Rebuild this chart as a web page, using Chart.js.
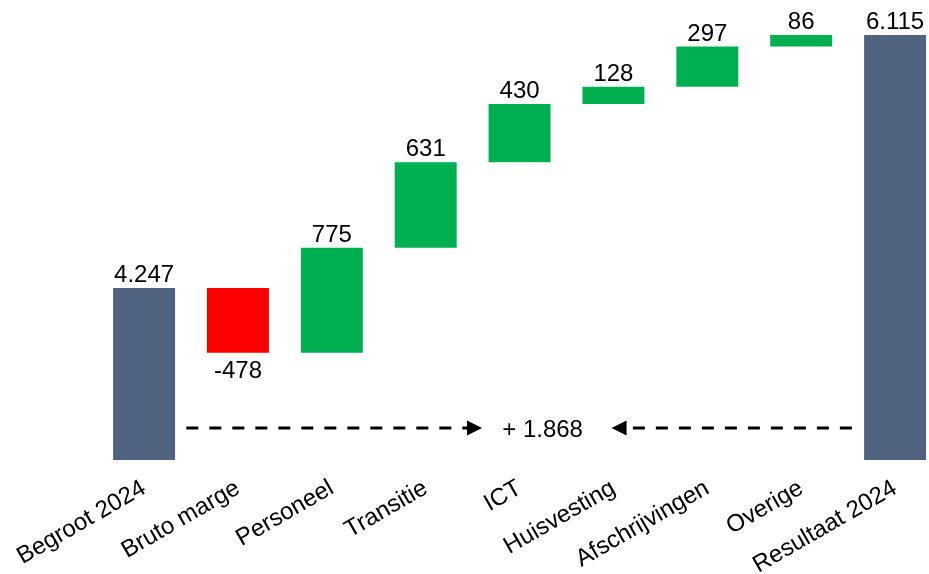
<!DOCTYPE html>
<html>
<head>
<meta charset="utf-8">
<script src="https://cdn.jsdelivr.net/npm/chart.js@4"></script>
<style>
  html, body { margin: 0; padding: 0; background: #ffffff; overflow: hidden; width: 929px; height: 574px; }
  #wrap { width: 942px; height: 574px; position: relative; }
</style>
</head>
<body>
<div id="wrap"><canvas id="c"></canvas></div>
<script>
// ---- data ----
const categories = ['Begroot 2024', 'Bruto marge', 'Personeel', 'Transitie', 'ICT', 'Huisvesting', 'Afschrijvingen', 'Overige', 'Resultaat 2024'];
const values = [4247, -478, 775, 631, 430, 128, 297, 86, 6115];
const kinds = ['total', 'delta', 'delta', 'delta', 'delta', 'delta', 'delta', 'delta', 'total'];
const yMin = 2977;
const yMax = 6300;

const COLORS = { total: '#4F6380', up: '#00B050', down: '#FF0000' };

function fmt(n) {
  const s = Math.abs(Math.round(n)).toString().replace(/\B(?=(\d{3})+(?!\d))/g, '.');
  return (n < 0 ? '-' : '') + s;
}

// build floating bars
let running = 0;
const bars = [];
const colors = [];
values.forEach((v, i) => {
  if (kinds[i] === 'total') {
    bars.push([yMin, v]);
    running = v;
    colors.push(COLORS.total);
  } else {
    bars.push([running, running + v]);
    running += v;
    colors.push(v >= 0 ? COLORS.up : COLORS.down);
  }
});
const difference = values[values.length - 1] - values[0];

const FONT = '"Liberation Sans", Arial, sans-serif';

const labelPlugin = {
  id: 'wfLabels',
  afterDatasetsDraw(chart) {
    const ctx = chart.ctx;
    const meta = chart.getDatasetMeta(0);
    const y = chart.scales.y;
    ctx.save();
    ctx.font = '24px ' + FONT;
    ctx.fillStyle = '#000';
    ctx.textAlign = 'center';
    ctx.textBaseline = 'alphabetic';
    meta.data.forEach((bar, i) => {
      const v = values[i];
      const [a, b] = bars[i];
      if (v >= 0) {
        ctx.fillText(fmt(v), bar.x, y.getPixelForValue(Math.max(a, b)) - 6);
      } else {
        ctx.fillText(fmt(v), bar.x, y.getPixelForValue(Math.min(a, b)) + 25);
      }
    });
    ctx.restore();
  }
};

const arrowPlugin = {
  id: 'wfArrows',
  afterDatasetsDraw(chart) {
    const ctx = chart.ctx;
    const xs = chart.scales.x, ys = chart.scales.y;
    const yy = ys.getPixelForValue(3213);
    const X = v => xs.getPixelForValue(v);
    ctx.save();
    ctx.strokeStyle = '#000';
    ctx.fillStyle = '#000';
    ctx.lineWidth = 3;
    ctx.setLineDash([12, 11]);
    // left arrow -> right
    const l0 = X(0.45), l1 = X(3.6);
    ctx.beginPath(); ctx.moveTo(l0, yy); ctx.lineTo(l1 - 15, yy); ctx.stroke();
    // right arrow <- left
    const r0 = X(7.54), r1 = X(4.98);
    ctx.beginPath(); ctx.moveTo(r0, yy); ctx.lineTo(r1 + 15, yy); ctx.stroke();
    ctx.setLineDash([]);
    ctx.beginPath(); ctx.moveTo(l1, yy); ctx.lineTo(l1 - 15, yy - 7.5); ctx.lineTo(l1 - 15, yy + 7.5); ctx.closePath(); ctx.fill();
    ctx.beginPath(); ctx.moveTo(r1, yy); ctx.lineTo(r1 + 15, yy - 7.5); ctx.lineTo(r1 + 15, yy + 7.5); ctx.closePath(); ctx.fill();
    ctx.font = '24px ' + FONT;
    ctx.textAlign = 'center';
    ctx.textBaseline = 'middle';
    ctx.fillText('+ ' + fmt(difference), X(4.245), yy + 2);
    ctx.restore();
  }
};

new Chart(document.getElementById('c'), {
  type: 'bar',
  data: {
    labels: categories,
    datasets: [{
      data: bars,
      backgroundColor: colors,
      borderWidth: 0,
      barPercentage: 0.66,
      categoryPercentage: 1.0
    }]
  },
  options: {
    responsive: true,
    maintainAspectRatio: false,
    animation: false,
    layout: { padding: { left: 95, right: 0, top: 10, bottom: 0 } },
    plugins: { legend: { display: false }, tooltip: { enabled: false } },
    scales: {
      x: {
        grid: { display: false, drawTicks: false },
        border: { display: false },
        ticks: {
          color: '#000',
          font: { family: FONT, size: 24 },
          minRotation: 30,
          maxRotation: 30,
          padding: 14
        },
        afterFit: s => { s.height = 114; }
      },
      y: {
        display: false,
        min: yMin,
        max: yMax
      }
    }
  },
  plugins: [labelPlugin, arrowPlugin]
});
</script>
</body>
</html>
